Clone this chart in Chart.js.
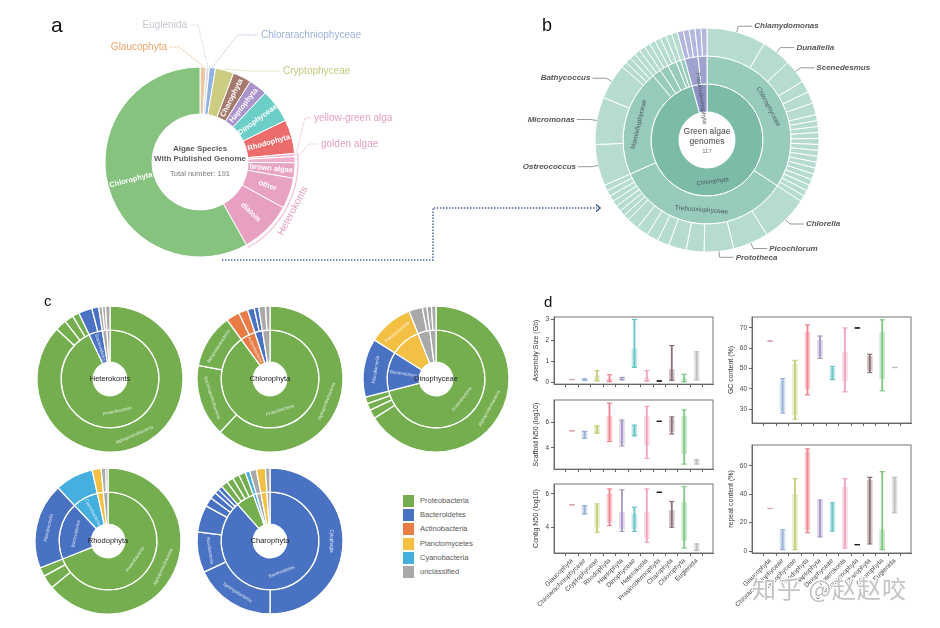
<!DOCTYPE html>
<html>
<head>
<meta charset="utf-8">
<script src="https://cdn.jsdelivr.net/npm/chart.js@4.4.1/dist/chart.umd.min.js"></script>
<style>
html,body{margin:0;padding:0;background:#fff}
body{width:940px;height:628px;position:relative;overflow:hidden;font-family:"Liberation Sans",Arial,sans-serif}
canvas{position:absolute}
.tag{position:absolute;color:#111;line-height:1;font-family:"Liberation Sans",Arial,sans-serif}
.leg{position:absolute;left:403px;height:12px;width:90px}
.leg span{position:absolute;left:0;top:0;width:11px;height:12px}
.leg i{position:absolute;left:17px;top:0;font-style:normal;font-size:7.5px;line-height:12px;color:#5a5a5a;white-space:nowrap;-webkit-font-smoothing:antialiased}
#wm{position:absolute;left:752px;top:576px;font-family:"Noto Sans CJK SC",sans-serif;font-size:24px;line-height:1;color:rgba(185,185,185,0.85);letter-spacing:1px;white-space:nowrap;
text-shadow:1px 1px 0 #fff,-1px -1px 0 #fff,1px -1px 0 #fff,-1px 1px 0 #fff}
</style>
</head>
<body>
<canvas id="ca" width="620" height="280" style="left:0;top:0"></canvas>
<canvas id="cb" width="460" height="280" style="left:480px;top:0"></canvas>
<canvas id="c1" width="150" height="150" style="left:35px;top:304px"></canvas>
<canvas id="c2" width="150" height="150" style="left:195px;top:304px"></canvas>
<canvas id="c3" width="150" height="150" style="left:361px;top:304px"></canvas>
<canvas id="c4" width="150" height="150" style="left:33px;top:466px"></canvas>
<canvas id="c5" width="150" height="150" style="left:195px;top:466px"></canvas>
<canvas id="d1" width="210" height="85" style="left:510px;top:305px"></canvas>
<canvas id="d2" width="210" height="85" style="left:510px;top:390px"></canvas>
<canvas id="d3" width="210" height="153" style="left:510px;top:475px"></canvas>
<canvas id="d4" width="228" height="125" style="left:712px;top:305px"></canvas>
<canvas id="d5" width="228" height="195" style="left:712px;top:433px"></canvas>

<div class="tag" style="left:51px;top:14px;font-size:21px">a</div>
<div class="tag" style="left:542px;top:16px;font-size:18px">b</div>
<div class="tag" style="left:44px;top:293px;font-size:15px">c</div>
<div class="tag" style="left:544px;top:294px;font-size:15px">d</div>

<div id="legend"></div>
<div id="wm">知乎 @赵赵咬</div>

<script>
// ---------------- DATA ----------------
// panel a
const algaeGroups = ['Glaucophyta','Euglenida','Chlorarachniophyceae','Cryptophyceae','Charophyta','Haptophyta','Dinophyceae','Rhodophyta','yellow-green alga','golden algae','brown algae','other','diatom','Chlorophyta'];
const algaeCounts = [2,1,2,6,6,6,11,11,1,2,5,10,17,111];
const algaeColors = ['#e8c7a4','#d9dbe4','#8fb2e2','#cdcd82','#a57a6d','#ab93cc','#6ccfc7','#ec6c6b','#f3b7d2','#efaecc','#e9a4c4','#e8a2c2','#e7a0c1','#86c37f'];
const heterokonts = ['yellow-green alga','golden algae','brown algae','other','diatom'];

// panel b (green algae sunburst)
const bPhylum = [112, 5];
const bPhylumNames = ['Chlorophyta','Prasinodermophyta'];
const bClass = [40, 40, 24, 2, 2, 2, 1, 1, 3, 2];
const bClassNames = ['Chlorophyceae','Trebouxiophyceae','Mamiellophyceae','Pyramimonadophyceae','Chlorodendrophyceae','Pedinophyceae','Ulvophyceae','Nephroselmidophyceae','Prasinodermophyceae','Palmophyllophyceae'];
const bGenus = [10,5,4,2,2,2,1,1,1,1,1,1,1,1,1,1,1,1,1,1,1, 8,6,5,3,3,2,2,2,2,1,1,1,1,1,1,1, 7,8,6,1,1,1, 1,1,1,1,1,1,1,1, 1,1,1,1,1];
const bGenusLabels = {0:'Chlamydomonas',1:'Dunaliella',2:'Scenedesmus',21:'Chlorella',22:'Picochlorum',23:'Prototheca',37:'Ostreococcus',38:'Micromonas',39:'Bathycoccus'};

// panel c (bacterial communities)
const bacPhyla = ['Proteobacteria','Bacteroidetes','Actinobacteria','Planctomycetes','Cyanobacteria','unclassified'];
const bacColors = ['#74ae4f','#4a72c2','#e97b45','#f4c044','#45afdf','#a9a9a9'];

const hetInner = [93, 4.5, 1.5, 1];
const hetInnerPhy = [0, 1, 5, 5];
const hetInnerNames = ['Proteobacteria','Bacteroidetes','',''];
const hetOuter = [87, 2.5, 2, 1.5, 3, 1.5, 0.8, 0.7, 1];
const hetOuterPhy = [0, 0, 0, 0, 1, 1, 5, 5, 5];
const hetOuterNames = ['Alphaproteobacteria','Gammaproteobacteria','Betaproteobacteria','Deltaproteobacteria','Flavobacteriia','Cytophagia','','',''];

const chlInner = [90, 5, 2.5, 2.5];
const chlInnerPhy = [0, 2, 1, 5];
const chlInnerNames = ['Proteobacteria','Actinobacteria','',''];
const chlOuter = [62, 16, 12, 3, 2, 1.5, 1, 1.5, 1];
const chlOuterPhy = [0, 0, 0, 2, 2, 1, 1, 5, 5];
const chlOuterNames = ['Alphaproteobacteria','Gammaproteobacteria','Betaproteobacteria','Actinobacteria','','','','',''];

const dinInner = [71, 13, 10, 4, 2];
const dinInnerPhy = [0, 1, 3, 5, 5];
const dinInnerNames = ['Proteobacteria','Bacteroidetes','Planctomycetes','',''];
const dinOuter = [66, 2, 1.5, 1.5, 13, 10, 3, 1, 1, 1];
const dinOuterPhy = [0, 0, 0, 0, 1, 3, 5, 5, 5, 5];
const dinOuterNames = ['Alphaproteobacteria','','','','Flavobacteriia','Planctomycetia','','','',''];

const rhoInner = [69, 19, 8.5, 2, 1.5];
const rhoInnerPhy = [0, 1, 4, 3, 5];
const rhoInnerNames = ['Proteobacteria','Bacteroidetes','Cyanobacteria','',''];
const rhoOuter = [64, 3, 2, 19, 8.5, 2, 1, 0.5];
const rhoOuterPhy = [0, 0, 0, 1, 4, 3, 5, 5];
const rhoOuterNames = ['Alphaproteobacteria','','','Flavobacteriia','Cyanobacteria','','',''];

const chaInner = [88.5, 6, 1, 1.5, 2, 1];
const chaInnerPhy = [1, 0, 4, 5, 3, 5];
const chaInnerNames = ['Bacteroidetes','','','','',''];
const chaOuter = [50, 18, 9, 6, 2, 1.5, 1, 1, 1.5, 1.5, 1.5, 1.5, 1, 1.5, 2, 1];
const chaOuterPhy = [1, 1, 1, 1, 1, 1, 1, 1, 0, 0, 0, 0, 4, 5, 3, 5];
const chaOuterNames = ['Cytophagia','Sphingobacteriia','Flavobacteriia','Chitinophagia','','','','','','','','','','','',''];

// panel d (genome statistics)
const dCategories = ['Glaucophyta','Chlorarachniophyceae','Cryptophyceae','Rhodophyta','Haptophyta','Dinophyceae','Heterokonts','Prasinodermophyta','Charophyta','Chlorophyta','Euglenida'];
const dColors = ['#d8a3a6','#94aed6','#c3cc76','#ef7f8c','#a596c4','#62c2c4','#f2a0bd','#1e1e1e','#8a6a6e','#7cc67f','#bdbdbd'];

const assemblyRange = [[0.12,0.12],[0.08,0.15],[0.05,0.55],[0.02,0.35],[0.1,0.22],[0.7,3.0],[0.03,0.55],[0.05,0.05],[0.08,1.75],[0.01,0.37],[0.1,1.45]];
const assemblyBody  = [[0.12,0.12],[0.08,0.15],[0.05,0.3],[0.02,0.15],[0.12,0.2],[0.7,1.6],[0.03,0.2],[0.05,0.05],[0.1,0.6],[0.02,0.15],[0.1,1.4]];
const scaffoldRange = [[5.35,5.35],[4.75,5.3],[5.15,5.75],[4.5,7.55],[4.15,6.2],[4.95,5.8],[3.15,7.3],[6.1,6.1],[5.1,6.45],[2.7,7.0],[2.7,3.05]];
const scaffoldBody  = [[5.35,5.35],[4.8,5.3],[5.2,5.7],[4.6,6.5],[4.3,6.1],[5.0,5.7],[4.2,6.5],[6.1,6.1],[5.3,6.3],[3.5,6.5],[2.75,3.0]];
const contigRange   = [[5.35,5.35],[4.8,5.3],[3.7,5.4],[4.1,6.3],[3.75,6.25],[3.75,5.2],[3.1,6.3],[6.1,6.1],[4.0,5.55],[2.75,6.45],[2.6,3.0]];
const contigBody    = [[5.35,5.35],[4.8,5.3],[4.0,5.3],[4.3,6.0],[3.9,4.9],[3.9,4.8],[3.3,4.9],[6.1,6.1],[4.1,5.0],[3.2,5.5],[2.65,2.95]];
const gcRange       = [[63.5,63.5],[28,45],[25,54],[37,71.5],[55,66],[44.5,51],[38.5,70],[70,70],[48,57],[39,74],[50.5,50.5]];
const gcBody        = [[63.5,63.5],[29,44],[27,52],[40,68],[56,64],[45,50],[44,58],[70,70],[49,56],[45,68],[50.5,50.5]];
const repeatRange   = [[30,30],[1,15],[1,51],[13,72],[10,36],[14,34],[2,51],[4.5,4.5],[5,52],[1,56],[27,52]];
const repeatBody    = [[30,30],[1,14],[2,40],[15,70],[11,35],[15,33],[3,45],[4.5,4.5],[6,50],[1,15],[28,51]];

const assemblyTicks = [0,1,2,3];
const scaffoldTicks = [4,6];
const contigTicks = [4,6];
const gcTicks = [30,40,50,60,70];
const repeatTicks = [0,20,40,60];

// ---------------- SETUP ----------------
Chart.defaults.font.family = '"Liberation Sans", Arial, sans-serif';
Chart.defaults.animation = false;
Chart.defaults.responsive = false;
Chart.defaults.maintainAspectRatio = false;
Chart.defaults.plugins.legend.display = false;
Chart.defaults.plugins.tooltip.enabled = false;
Chart.defaults.events = [];

function hexA(hex, a){ const n=parseInt(hex.slice(1),16); return `rgba(${(n>>16)&255},${(n>>8)&255},${n&255},${a})`; }
function upright(rot){ rot=Math.atan2(Math.sin(rot),Math.cos(rot)); if(rot>Math.PI/2) rot-=Math.PI; else if(rot<-Math.PI/2) rot+=Math.PI; return rot; }

const sliceTextPlugin = {
  id:'sliceText',
  afterDatasetsDraw(chart, args, opts){
    const ctx = chart.ctx;
    (opts.sets||[]).forEach(set=>{
      const meta = chart.getDatasetMeta(set.ds);
      ctx.save(); ctx.font=set.font; ctx.fillStyle=set.color; ctx.textAlign='center'; ctx.textBaseline='middle';
      meta.data.forEach((arc,i)=>{
        const txt = set.labels[i]; if(!txt) return;
        const p = arc.getProps(['x','y','startAngle','endAngle','innerRadius','outerRadius'], true);
        const a=(p.startAngle+p.endAngle)/2, r=(p.innerRadius+p.outerRadius)/2;
        const w=ctx.measureText(txt).width;
        let mode = (set.modes && set.modes[i]) || set.mode;
        if(mode==='auto'){
          const arcLen=(p.endAngle-p.startAngle)*r;
          if(arcLen>w+6) mode='tangent';
          else if((p.outerRadius-p.innerRadius)>w+3 && arcLen>6) mode='radial';
          else return;
        }
        const rot = upright(mode==='radial'? a : a+Math.PI/2);
        ctx.save(); ctx.translate(p.x+Math.cos(a)*r, p.y+Math.sin(a)*r); ctx.rotate(rot); ctx.fillText(txt,0,0); ctx.restore();
      });
      ctx.restore();
    });
  }
};

const centerPlugin = {
  id:'center',
  afterDraw(chart, args, opts){
    const m = chart.getDatasetMeta(0).data[0]; if(!m) return;
    const {x,y} = m.getProps(['x','y'], true);
    const ctx=chart.ctx; ctx.save(); ctx.textAlign='center'; ctx.textBaseline='middle';
    (opts.lines||[]).forEach(l=>{ ctx.font=l.font; ctx.fillStyle=l.color; ctx.fillText(l.text, x, y+l.dy); });
    ctx.restore();
  }
};

// ---------------- PANEL A ----------------
const aCallouts = [
  {name:'Glaucophyta', color:'#eea46a', tx:167, ty:47, align:'right', ex:179},
  {name:'Euglenida', color:'#c6c8d3', tx:187, ty:25, align:'right', ex:198},
  {name:'Chlorarachniophyceae', color:'#9cb2dc', tx:261, ty:35, align:'left', ex:238},
  {name:'Cryptophyceae', color:'#c6c97f', tx:283, ty:71, align:'left', ex:250},
  {name:'yellow-green alga', color:'#e6a0c3', tx:314, ty:118, align:'left', ex:305},
  {name:'golden algae', color:'#e6a0c3', tx:321, ty:144, align:'left', ex:309}
];
const calloutNames = aCallouts.map(c=>c.name);

const panelAPlugin = {
  id:'panelA',
  afterDraw(chart){
    const ctx=chart.ctx, meta=chart.getDatasetMeta(0);
    const p0 = meta.data[0].getProps(['x','y','outerRadius'], true);
    const cx=p0.x, cy=p0.y, R=p0.outerRadius;
    ctx.save();
    aCallouts.forEach(c=>{
      const i=algaeGroups.indexOf(c.name);
      const p=meta.data[i].getProps(['startAngle','endAngle'], true);
      const ang=(p.startAngle+p.endAngle)/2;
      const x0=cx+Math.cos(ang)*(R+1), y0=cy+Math.sin(ang)*(R+1);
      ctx.strokeStyle=c.color; ctx.lineWidth=0.9; ctx.setLineDash([1.2,1.2]);
      ctx.beginPath(); ctx.moveTo(x0,y0); ctx.lineTo(c.ex,c.ty); ctx.lineTo(c.align==='left'? c.tx-3 : c.tx+3, c.ty); ctx.stroke();
      ctx.setLineDash([]);
      ctx.fillStyle=c.color; ctx.font='10px "Liberation Sans"'; ctx.textAlign=c.align; ctx.textBaseline='middle';
      ctx.fillText(c.name, c.tx, c.ty);
    });
    const h0=meta.data[algaeGroups.indexOf(heterokonts[0])].getProps(['startAngle'],true).startAngle;
    const h1=meta.data[algaeGroups.indexOf(heterokonts[heterokonts.length-1])].getProps(['endAngle'],true).endAngle;
    ctx.strokeStyle='#f1c3da'; ctx.lineWidth=1.3;
    ctx.beginPath(); ctx.arc(cx,cy,R+3,h0,h1); ctx.stroke();
    const hm=(h0+h1)/2, hr=R+10;
    ctx.save(); ctx.translate(cx+Math.cos(hm)*hr, cy+Math.sin(hm)*hr); ctx.rotate(upright(hm+Math.PI/2));
    ctx.font='10px "Liberation Sans"'; ctx.fillStyle='#e49cc1'; ctx.textAlign='center'; ctx.textBaseline='middle';
    ctx.fillText('Heterokonts',0,0); ctx.restore();
    ctx.strokeStyle='#3f5f90'; ctx.lineWidth=1.4; ctx.setLineDash([1.4,1.6]);
    ctx.beginPath(); ctx.moveTo(222,260); ctx.lineTo(433,260); ctx.lineTo(433,208); ctx.lineTo(597,208); ctx.stroke();
    ctx.setLineDash([]); ctx.lineWidth=1.6;
    ctx.beginPath(); ctx.moveTo(596,204.5); ctx.lineTo(600,208); ctx.lineTo(596,211.5); ctx.stroke();
    ctx.restore();
  }
};

new Chart(document.getElementById('ca'), {
  type:'doughnut',
  data:{ labels:algaeGroups, datasets:[{ data:algaeCounts, backgroundColor:algaeColors, borderColor:'#fff', borderWidth:1 }]},
  options:{
    radius:95, cutout:'50.5%',
    layout:{padding:{left:0,right:220,top:62,bottom:18}},
    plugins:{
      sliceText:{sets:[{ds:0, labels:algaeGroups.map(n=>calloutNames.includes(n)?'':n), mode:'radial', font:'bold 7.5px "Liberation Sans"', color:'#ffffff'}]},
      center:{lines:[
        {text:'Algae Species', font:'bold 8px "Liberation Sans"', color:'#5c5c5c', dy:-13},
        {text:'With Published Genome', font:'bold 8px "Liberation Sans"', color:'#5c5c5c', dy:-3},
        {text:'Total number: '+algaeCounts.reduce((s,v)=>s+v,0), font:'7.5px "Liberation Sans"', color:'#7a7a7a', dy:12}
      ]}
    }
  },
  plugins:[sliceTextPlugin, centerPlugin, panelAPlugin]
});

// ---------------- PANEL B ----------------
function parentColor(values, cut, normal, other){
  let acc=0; return values.map(v=>{ const c = acc>=cut-1e-9 ? other : normal; acc+=v; return c; });
}
const genusPlugin = {
  id:'genus',
  afterDraw(chart){
    const ctx=chart.ctx, meta=chart.getDatasetMeta(0);
    ctx.save(); ctx.font='italic bold 8px "Liberation Sans"'; ctx.fillStyle='#555'; ctx.strokeStyle='#808080'; ctx.lineWidth=0.8; ctx.textBaseline='middle';
    meta.data.forEach((arc,i)=>{
      const name=bGenusLabels[i]; if(!name) return;
      const p=arc.getProps(['x','y','startAngle','endAngle','outerRadius'], true);
      const a=(p.startAngle+p.endAngle)/2, right=Math.cos(a)>=0;
      const x0=p.x+Math.cos(a)*p.outerRadius, y0=p.y+Math.sin(a)*p.outerRadius;
      const x1=p.x+Math.cos(a)*(p.outerRadius+6), y1=p.y+Math.sin(a)*(p.outerRadius+6);
      const x2=x1+(right?14:-14);
      ctx.beginPath(); ctx.moveTo(x0,y0); ctx.lineTo(x1,y1); ctx.lineTo(x2,y1); ctx.stroke();
      ctx.textAlign=right?'left':'right'; ctx.fillText(name, x2+(right?2:-2), y1);
    });
    ctx.restore();
  }
};
new Chart(document.getElementById('cb'), {
  type:'doughnut',
  data:{ datasets:[
    { data:bGenus, backgroundColor:parentColor(bGenus,bPhylum[0],'#b5dccf','#b3b7de'), borderColor:'#fff', borderWidth:1, weight:1 },
    { data:bClass, backgroundColor:parentColor(bClass,bPhylum[0],'#97cbbb','#9da2cf'), borderColor:'#fff', borderWidth:1, weight:1 },
    { data:bPhylum, backgroundColor:['#7bbba8','#8a90c1'], borderColor:'#fff', borderWidth:1, weight:1 }
  ]},
  options:{
    radius:112, cutout:'25%',
    layout:{padding:{left:0,right:6,top:0,bottom:0}},
    plugins:{
      sliceText:{sets:[
        {ds:1, labels:bClassNames, mode:'auto', font:'6.5px "Liberation Sans"', color:'#4d5a5e'},
        {ds:2, labels:bPhylumNames, modes:['tangent','radial'], mode:'tangent', font:'6px "Liberation Sans"', color:'#4d5a5e'}
      ]},
      center:{lines:[
        {text:'Green algae', font:'8.5px "Liberation Sans"', color:'#444', dy:-8},
        {text:'genomes', font:'8.5px "Liberation Sans"', color:'#444', dy:2},
        {text:String(bPhylum.reduce((s,v)=>s+v,0)), font:'6px "Liberation Sans"', color:'#777', dy:11}
      ]}
    }
  },
  plugins:[sliceTextPlugin, centerPlugin, genusPlugin]
});

// ---------------- PANEL C ----------------
function hostChart(id, title, inner, innerPhy, innerNames, outer, outerPhy, outerNames){
  return new Chart(document.getElementById(id), {
    type:'doughnut',
    data:{ datasets:[
      { data:outer, backgroundColor:outerPhy.map(k=>bacColors[k]), borderColor:'#fff', borderWidth:1.3, weight:24 },
      { data:inner, backgroundColor:innerPhy.map(k=>bacColors[k]), borderColor:'#fff', borderWidth:1.3, weight:32 }
    ]},
    options:{
      radius:73, cutout:'23%',
      plugins:{
        sliceText:{sets:[
          {ds:0, labels:outerNames, mode:'auto', font:'4.5px "Liberation Sans"', color:'rgba(255,255,255,0.8)'},
          {ds:1, labels:innerNames, mode:'auto', font:'4.5px "Liberation Sans"', color:'rgba(255,255,255,0.8)'}
        ]},
        center:{lines:[{text:title, font:'7.5px "Liberation Sans"', color:'#222', dy:0}]}
      }
    },
    plugins:[sliceTextPlugin, centerPlugin]
  });
}
hostChart('c1','Heterokonts', hetInner, hetInnerPhy, hetInnerNames, hetOuter, hetOuterPhy, hetOuterNames);
hostChart('c2','Chlorophyta', chlInner, chlInnerPhy, chlInnerNames, chlOuter, chlOuterPhy, chlOuterNames);
hostChart('c3','Dinophyceae', dinInner, dinInnerPhy, dinInnerNames, dinOuter, dinOuterPhy, dinOuterNames);
hostChart('c4','Rhodophyta', rhoInner, rhoInnerPhy, rhoInnerNames, rhoOuter, rhoOuterPhy, rhoOuterNames);
hostChart('c5','Charophyta', chaInner, chaInnerPhy, chaInnerNames, chaOuter, chaOuterPhy, chaOuterNames);

const leg = document.getElementById('legend');
bacPhyla.forEach((name,i)=>{
  const d=document.createElement('div'); d.className='leg'; d.style.top=(495+i*14.2)+'px';
  const sw=document.createElement('span'); sw.style.background=bacColors[i];
  const tx=document.createElement('i'); tx.textContent=name;
  d.appendChild(sw); d.appendChild(tx); leg.appendChild(d);
});

// ---------------- PANEL D ----------------
const framePlugin = {
  id:'frame',
  afterDraw(chart){ const {ctx, chartArea:a}=chart; ctx.save(); ctx.strokeStyle='#666'; ctx.lineWidth=0.9;
    ctx.strokeRect(a.left, a.top, a.right-a.left, a.bottom-a.top); ctx.restore(); }
};
function violinChart(id, ranges, bodies, ticks, yMin, yMax, title, showLabels, yW, xH, padTop, padRight, titlePad){
  const ends=[...ranges.map((r,i)=>({x:i,y:r[0]})), ...ranges.map((r,i)=>({x:i,y:r[1]}))];
  return new Chart(document.getElementById(id), {
    type:'bar',
    data:{ datasets:[
      { data:bodies.map((b,i)=>({x:i,y:b})), backgroundColor:dColors.map(c=>hexA(c,0.38)), barThickness:5, grouped:false, order:3 },
      { data:ranges.map((r,i)=>({x:i,y:r})), backgroundColor:dColors.map(c=>hexA(c,0.95)), barThickness:1.2, grouped:false, order:2 },
      { type:'scatter', data:ends, pointStyle:'line', pointRadius:2.6, borderWidth:1.2,
        borderColor:[...dColors,...dColors].map(c=>hexA(c,0.95)), backgroundColor:'transparent', order:1 }
    ]},
    options:{
      layout:{padding:{top:padTop,right:padRight,left:0,bottom:0}},
      scales:{
        x:{ type:'linear', min:-0.876, max:10.73,
            afterBuildTicks:s=>{ s.ticks=dCategories.map((_,i)=>({value:i})); },
            afterFit:s=>{ s.height=xH; },
            ticks:{ autoSkip:false, minRotation:45, maxRotation:45, padding:1, font:{size:6.5}, color:'#444',
                    callback:v=> showLabels ? dCategories[v] : '' },
            grid:{ drawOnChartArea:false, tickLength:3, color:'#666' }, border:{color:'#666'} },
        y:{ min:yMin, max:yMax,
            afterBuildTicks:s=>{ s.ticks=ticks.map(v=>({value:v})); },
            afterFit:s=>{ s.width=yW; },
            ticks:{ font:{size:6.5}, color:'#444', padding:2 },
            grid:{ drawOnChartArea:false, tickLength:3, color:'#666' }, border:{color:'#666'},
            title:{ display:true, text:title, font:{size:7}, color:'#333', padding:{top:titlePad,bottom:0} } }
      }
    },
    plugins:[framePlugin]
  });
}
violinChart('d1', assemblyRange, assemblyBody, assemblyTicks, -0.1, 3.12, 'Assembly Size (Gb)', false, 44, 5, 12, 7, 22);
violinChart('d2', scaffoldRange, scaffoldBody, scaffoldTicks, 2.3, 7.8, 'Scaffold N50 (log10)', false, 44, 5, 10, 7, 22);
violinChart('d3', contigRange, contigBody, contigTicks, 2.45, 6.6, 'Contig N50 (log10)', true, 44, 75, 9, 7, 22);
violinChart('d4', gcRange, gcBody, gcTicks, 23.1, 75.4, 'GC content (%)', false, 40, 7, 12, 29, 15);
violinChart('d5', repeatRange, repeatBody, repeatTicks, -1.4, 74.8, 'repeat content (%)', true, 40, 75, 12, 29, 15);
</script>
</body>
</html>
